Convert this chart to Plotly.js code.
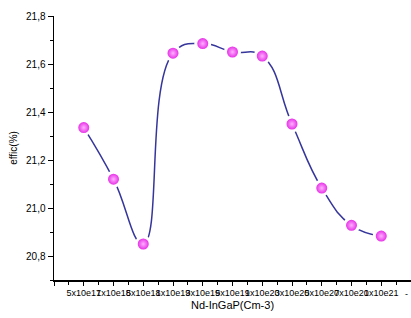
<!DOCTYPE html>
<html>
<head>
<meta charset="utf-8">
<script src="https://cdn.plot.ly/plotly-3.0.1.min.js"></script>
<style>html,body{margin:0;padding:0;background:#fff;}#chart{width:411px;height:318px;}</style>
</head>
<body>
<div id="chart"></div>
<script>
const xPositions = [1, 2, 3, 4, 5, 6, 7, 8, 9, 10, 11];
const efficValues = [21.335, 21.12, 20.85, 21.645, 21.685, 21.65, 21.633, 21.35, 21.083, 20.928, 20.883];
const tickPositions = [0, 1, 2, 3, 4, 5, 6, 7, 8, 9, 10, 11, 12];
const tickLabels = ["", "5x10e17", "1x10e18", "5x10e18", "1x10e19", "3x10e19", "5x10e19", "1x10e20", "3x10e20", "5x10e20", "7x10e20", "1x10e21", ""];

const trace = {
  x: xPositions,
  y: efficValues,
  type: 'scatter',
  mode: 'lines+markers',
  line: {shape: 'spline', smoothing: 1.3, color: '#35359c', width: 1.5},
  marker: {
    size: 14,
    color: '#e010e0',
    gradient: {type: 'radial', color: '#ffb0ff'},
    line: {color: '#ffffff', width: 3}
  },
  cliponaxis: false,
  hoverinfo: 'skip'
};

const layout = {
  width: 411,
  height: 318,
  margin: {l: 54, r: 0, t: 16, b: 38},
  paper_bgcolor: '#ffffff',
  plot_bgcolor: '#ffffff',
  separators: ', ',
  showlegend: false,
  font: {family: 'Liberation Sans, Arial, sans-serif', color: '#000', size: 10},
  xaxis: {
    range: [0, 12],
    tickmode: 'array',
    tickvals: tickPositions,
    ticktext: tickLabels,
    tickangle: 0,
    ticks: 'outside',
    ticklen: 4,
    tickwidth: 1,
    tickcolor: '#000',
    minor: {dtick: 0.5, tick0: 0, ticks: 'outside', ticklen: 3, tickcolor: '#000'},
    showline: true,
    linecolor: '#000',
    linewidth: 1.5,
    showgrid: false,
    zeroline: false,
    tickfont: {size: 9},
    title: {text: 'Nd-InGaP(Cm-3)', font: {size: 11}, standoff: 4},
    automargin: false
  },
  yaxis: {
    range: [20.7, 21.8],
    tickmode: 'array',
    tickvals: [20.8, 21.0, 21.2, 21.4, 21.6, 21.8],
    tickformat: '.1f',
    ticks: 'outside',
    ticklen: 5,
    tickwidth: 1,
    tickcolor: '#000',
    minor: {dtick: 0.1, tick0: 20.7, ticks: 'outside', ticklen: 3, tickcolor: '#000'},
    showline: true,
    linecolor: '#000',
    linewidth: 1.5,
    showgrid: false,
    zeroline: false,
    tickfont: {size: 10},
    title: {text: 'effic(%)', font: {size: 10}, standoff: 6},
    automargin: false
  },
  annotations: [{
    text: '-', xref: 'x', yref: 'paper', x: 12, y: 0, xanchor: 'right', yanchor: 'top',
    yshift: -7, xshift: -1, showarrow: false, font: {size: 9, color: '#000'}
  }]
};

Plotly.newPlot('chart', [trace], layout, {staticPlot: true, displayModeBar: false});
</script>
</body>
</html>
